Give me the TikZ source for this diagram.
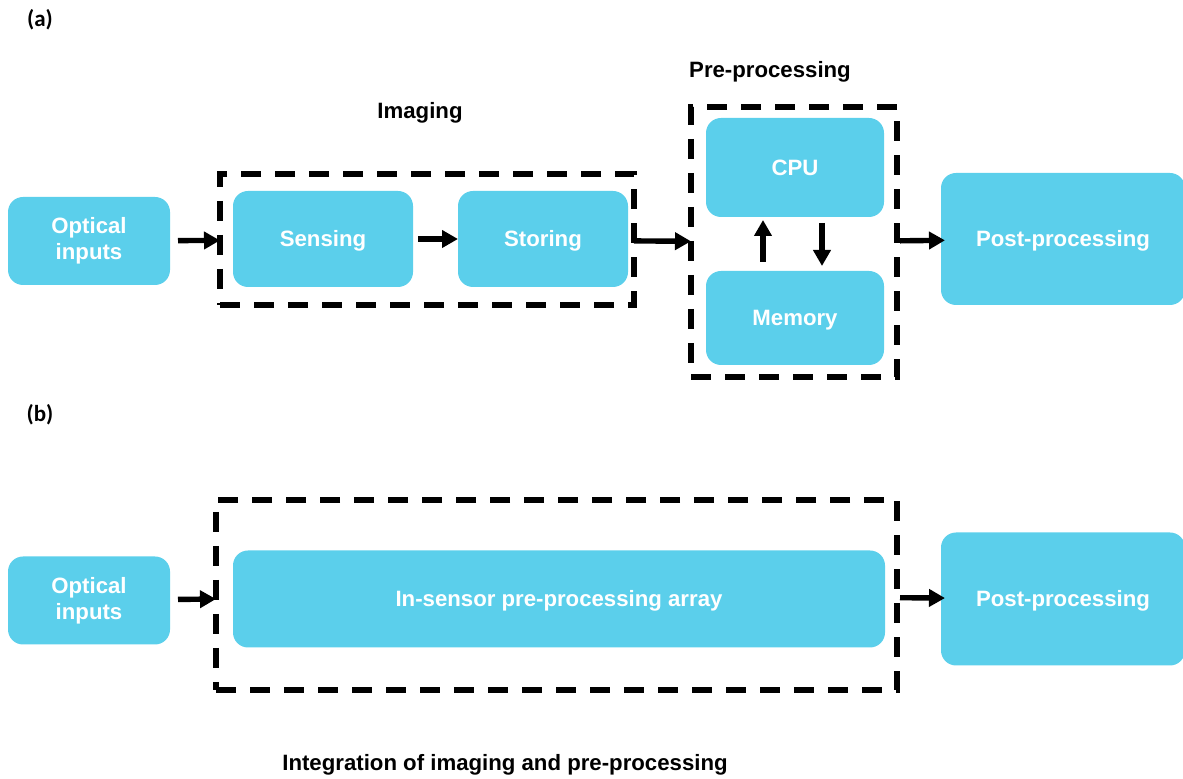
\documentclass[tikz,border=0pt]{standalone}
\usepackage{fontspec}
\setmainfont{Liberation Sans}
\newfontfamily\tagfont{Carlito}
\usetikzlibrary{arrows.meta}
\usetikzlibrary{calc}
\definecolor{boxcyan}{RGB}{91,207,235}

\begin{document}
\begin{tikzpicture}[x=0.5pt,y=-0.5pt,>={Triangle[length=8pt,width=8.5pt]},line width=2.7pt,
      block/.style={fill=boxcyan,rounded corners=7.5pt,inner sep=0pt,outer sep=0pt,
        text=white,align=center,font=\fontsize{11.1}{13}\selectfont\bfseries},
      oneline/.style={text height=8pt,text depth=0pt},
      dashbox/.style={draw,dash pattern=on 10pt off 7pt,inner sep=0pt,outer sep=0pt},
      title/.style={font=\fontsize{11.1}{13}\selectfont\bfseries},
      tag/.style={font=\tagfont\fontsize{11.5}{13}\selectfont\bfseries}]
  \useasboundingbox (0,0) rectangle (1183,779);

  % (a)
  \node[tag] (taga) at (40,20) {(a)};
  \node[block,minimum width=81pt,minimum height=44pt] (opta) at (89,241) {Optical\\inputs};
  \node[dashbox,minimum width=207pt,minimum height=65.5pt] (imaging) at (427,239.5) {};
  \node[block,oneline,minimum width=90pt,minimum height=48pt] (sens) at (323,239) {Sensing};
  \node[block,oneline,minimum width=85pt,minimum height=48pt] (stor) at (543,239) {Storing};
  \node[title] (imgtitle) at (420,113) {Imaging};
  \node[dashbox,minimum width=103pt,minimum height=135pt] (pre) at (794,242) {};
  \node[block,oneline,minimum width=89pt,minimum height=49.5pt] (cpu) at (795,167.5) {CPU};
  \node[block,oneline,minimum width=89pt,minimum height=47pt] (mem) at (795,318) {Memory};
  \node[title] (pretitle) at (770,72) {Pre-processing};
  \node[block,oneline,minimum width=122pt,minimum height=66pt] (posta) at (1063,239) {Post-processing};

  \path[->]
    (opta)    edge [shorten <=4pt] (imaging)
    (sens)    edge [shorten <=2.5pt] (stor)
    (imaging) edge (pre)
    (pre)     edge [shorten <=1.5pt,shorten >=-2pt] (posta);
  \draw[->] ($(mem.north)+(-32,-9)$) -- ($(cpu.south)+(-32,3)$);
  \draw[->] ($(cpu.south)+(27,6)$) -- ($(mem.north)+(27,-5)$);

  % (b)
  \node[tag] (tagb) at (40,415) {(b)};
  \node[block,minimum width=81pt,minimum height=44pt] (optb) at (89,600.5) {Optical\\inputs};
  \node[dashbox,minimum width=340.5pt,minimum height=95pt] (insensor) at (556.5,595) {};
  \node[block,oneline,minimum width=326pt,minimum height=48.5pt] (array) at (559,599) {In-sensor pre-processing array};
  \node[block,oneline,minimum width=122pt,minimum height=66.5pt] (postb) at (1063,599) {Post-processing};
  \node[title] (captb) at (505,765) {Integration of imaging and pre-processing};

  \path[->]
    (optb)     edge [shorten <=4pt] (insensor)
    (insensor) edge [shorten <=1.5pt,shorten >=-2pt] (postb);
\end{tikzpicture}
\end{document}
